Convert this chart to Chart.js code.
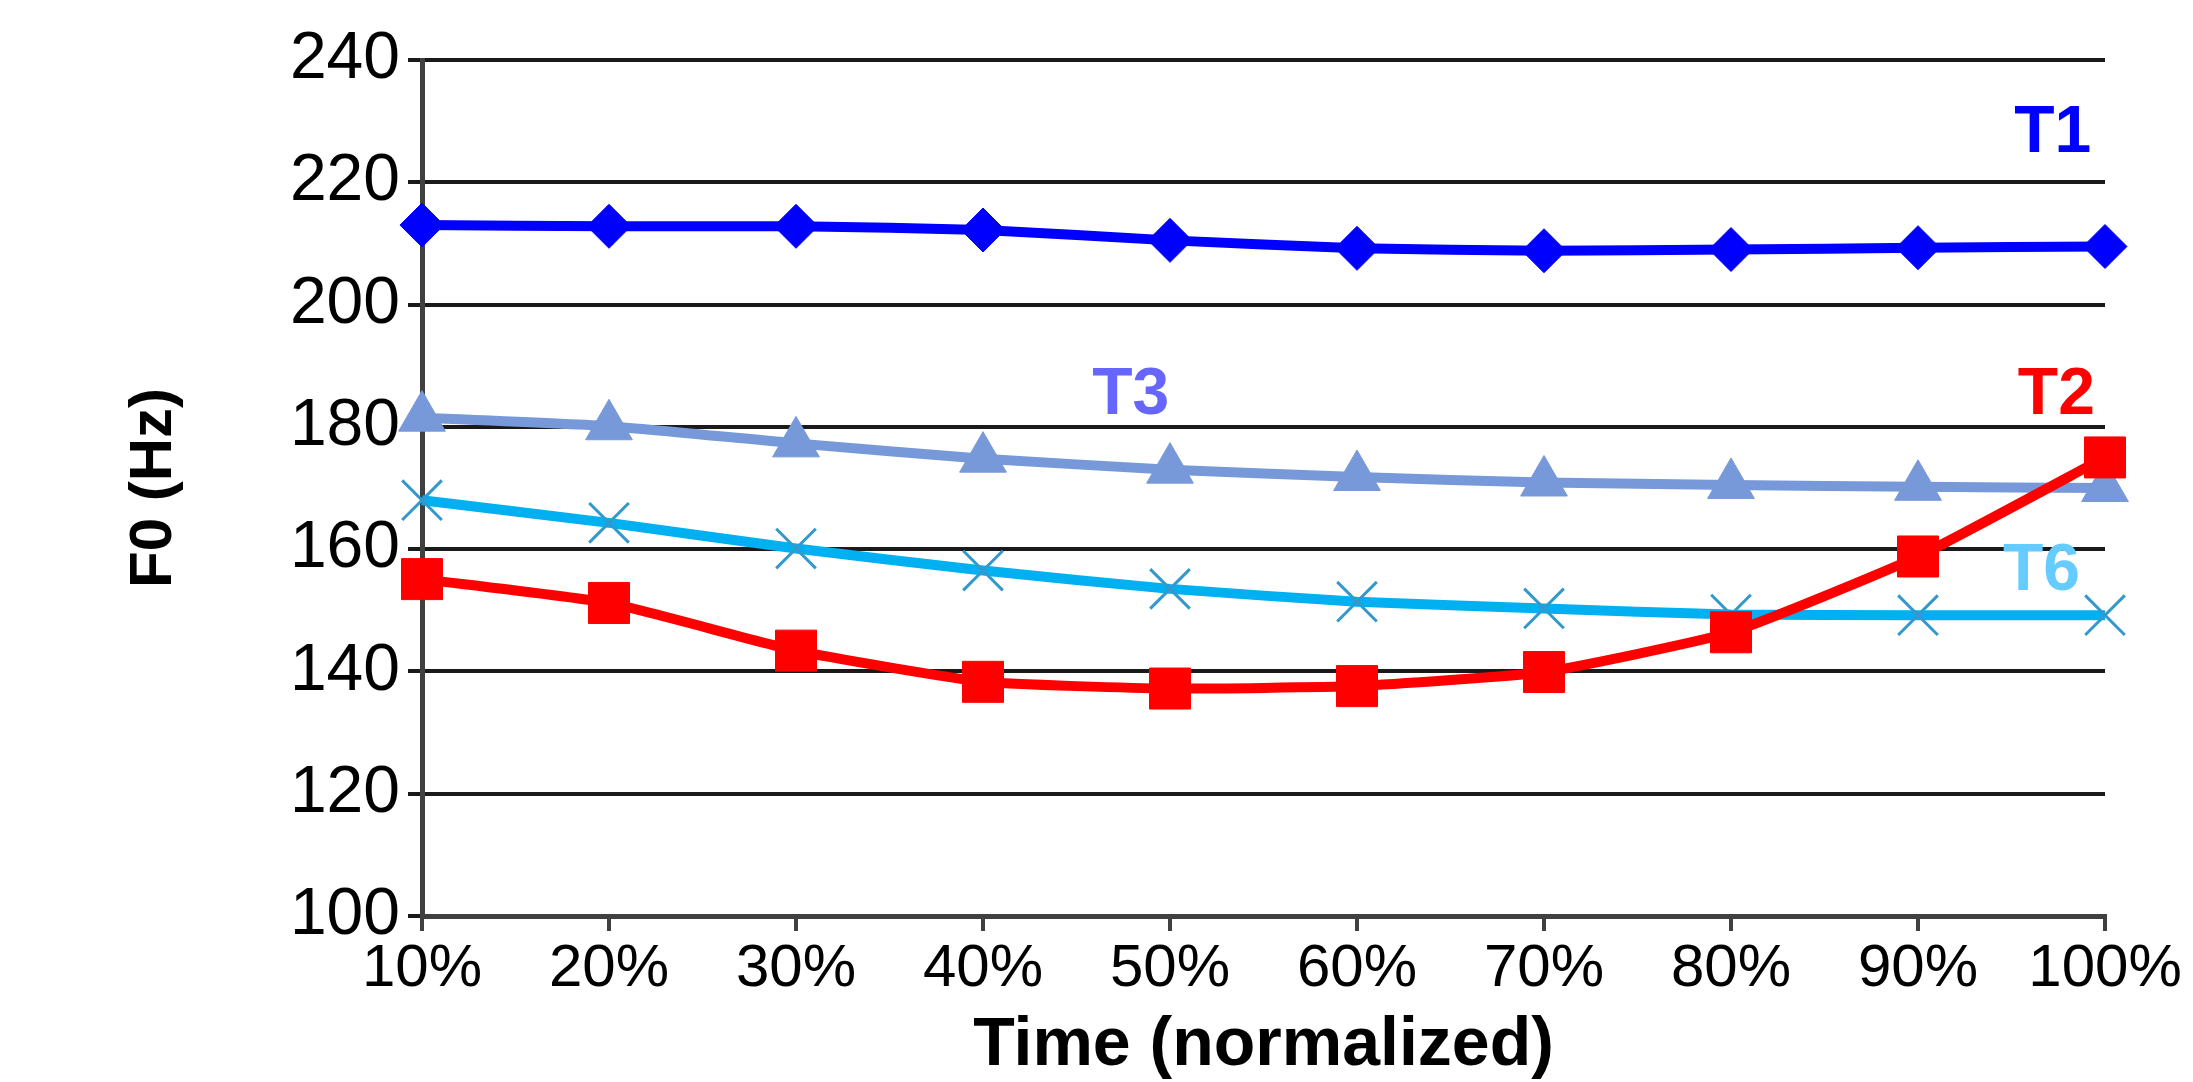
<!DOCTYPE html>
<html>
<head>
<meta charset="utf-8">
<script src="https://cdn.jsdelivr.net/npm/chart.js@4/dist/chart.umd.min.js"></script>
<style>
  html, body { margin: 0; padding: 0; background: #fff; }
  #wrap { width: 2193px; height: 1082px; }
</style>
</head>
<body>
<div id="wrap"><canvas id="f0Chart" width="2193" height="1082"></canvas></div>
<script>
// values
const timeLabels = ['10%', '20%', '30%', '40%', '50%', '60%', '70%', '80%', '90%', '100%'];
const t1 = [213, 212.8, 212.8, 212.2, 210.5, 209.2, 208.8, 209, 209.3, 209.5];
const t2 = [155.1, 151.2, 143.4, 138.3, 137.2, 137.6, 139.9, 146.4, 158.8, 175];
const t3 = [181.5, 180.1, 177.3, 174.8, 173, 171.8, 170.9, 170.5, 170.2, 170];
const t6 = [168, 164.3, 160.1, 156.5, 153.5, 151.4, 150.3, 149.3, 149.2, 149.2];
const yTicks = [100, 120, 140, 160, 180, 200, 220, 240];

const FONT = "'Liberation Sans', Arial, sans-serif";

// tone labels placed next to the curves (x = category index, y = Hz)
const toneLabels = [
    { text: 'T1', x: 8.72, y: 227.9, color: '#0000ff' },
    { text: 'T2', x: 8.74, y: 185, color: '#ff0000' },
    { text: 'T3', x: 3.79, y: 185, color: '#6666ff' },
    { text: 'T6', x: 8.66, y: 156.3, color: '#66ccff' }
];

const toneLabelPlugin = {
    id: 'toneLabels',
    afterDatasetsDraw(chart) {
        const ctx = chart.ctx;
        const xs = chart.scales.x, ys = chart.scales.y;
        ctx.save();
        ctx.font = 'bold 66px ' + FONT;
        ctx.textAlign = 'center';
        ctx.textBaseline = 'middle';
        toneLabels.forEach(function(l) {
            ctx.fillStyle = l.color;
            ctx.fillText(l.text, xs.getPixelForValue(l.x), ys.getPixelForValue(l.y));
        });
        ctx.restore();
    }
};

const ctx = document.getElementById('f0Chart').getContext('2d');
const f0Chart = new Chart(ctx, {
    type: 'line',
    data: {
        labels: timeLabels,
        datasets: [
            {
                label: 'T1', data: t1, order: 1,
                borderColor: '#0000ff', backgroundColor: '#0000ff', borderWidth: 10,
                pointStyle: 'rectRot', pointRadius: 22, pointBorderWidth: 1,
                pointBorderColor: '#0000ff', pointBackgroundColor: '#0000ff'
            },
            {
                label: 'T2', data: t2, order: 0,
                borderColor: '#ff0000', backgroundColor: '#ff0000', borderWidth: 10,
                pointStyle: 'rect', pointRadius: 29, pointBorderWidth: 1,
                pointBorderColor: '#ff0000', pointBackgroundColor: '#ff0000'
            },
            {
                label: 'T3', data: t3, order: 2,
                borderColor: '#7799d9', backgroundColor: '#7799d9', borderWidth: 10,
                pointStyle: 'triangle', pointRadius: 27, pointBorderWidth: 1,
                pointBorderColor: '#7799d9', pointBackgroundColor: '#7799d9'
            },
            {
                label: 'T6', data: t6, order: 1,
                borderColor: '#00b0f0', backgroundColor: '#00b0f0', borderWidth: 10,
                pointStyle: 'crossRot', pointRadius: 28, pointBorderWidth: 3,
                pointBorderColor: '#3399cc', pointBackgroundColor: '#3399cc'
            }
        ]
    },
    options: {
        responsive: false,
        animation: false,
        events: [],
        layout: { padding: { left: 0, right: 88, top: 60, bottom: 0 } },
        plugins: {
            legend: { display: false },
            tooltip: { enabled: false }
        },
        elements: { line: { tension: 0.15 } },
        scales: {
            x: {
                type: 'category',
                offset: false,
                afterFit: function(scale) { scale.height = 166; },
                grid: {
                    drawOnChartArea: false, drawTicks: true, tickLength: 15,
                    color: '#404040', lineWidth: 4
                },
                border: { display: true, color: '#404040', width: 5 },
                ticks: {
                    color: '#000', padding: 2, maxRotation: 0,
                    font: { family: FONT, size: 60 }
                },
                title: {
                    display: true, text: 'Time (normalized)', color: '#000',
                    padding: { top: 2, bottom: 2 },
                    font: { family: FONT, size: 68, weight: 'bold', lineHeight: 1.0 }
                }
            },
            y: {
                min: 100, max: 240,
                afterFit: function(scale) { scale.width = 422; },
                afterBuildTicks: function(scale) {
                    scale.ticks = yTicks.map(function(v) { return { value: v }; });
                },
                grid: { color: '#1a1a1a', lineWidth: 4, tickLength: 14, drawTicks: true },
                border: { display: true, color: '#404040', width: 5 },
                ticks: {
                    color: '#000', padding: 8,
                    font: { family: FONT, size: 66 }
                },
                title: {
                    display: true, text: 'F0 (Hz)', color: '#000',
                    padding: { top: 118, bottom: 118 },
                    font: { family: FONT, size: 60, weight: 'bold' }
                }
            }
        }
    },
    plugins: [toneLabelPlugin]
});
</script>
</body>
</html>
